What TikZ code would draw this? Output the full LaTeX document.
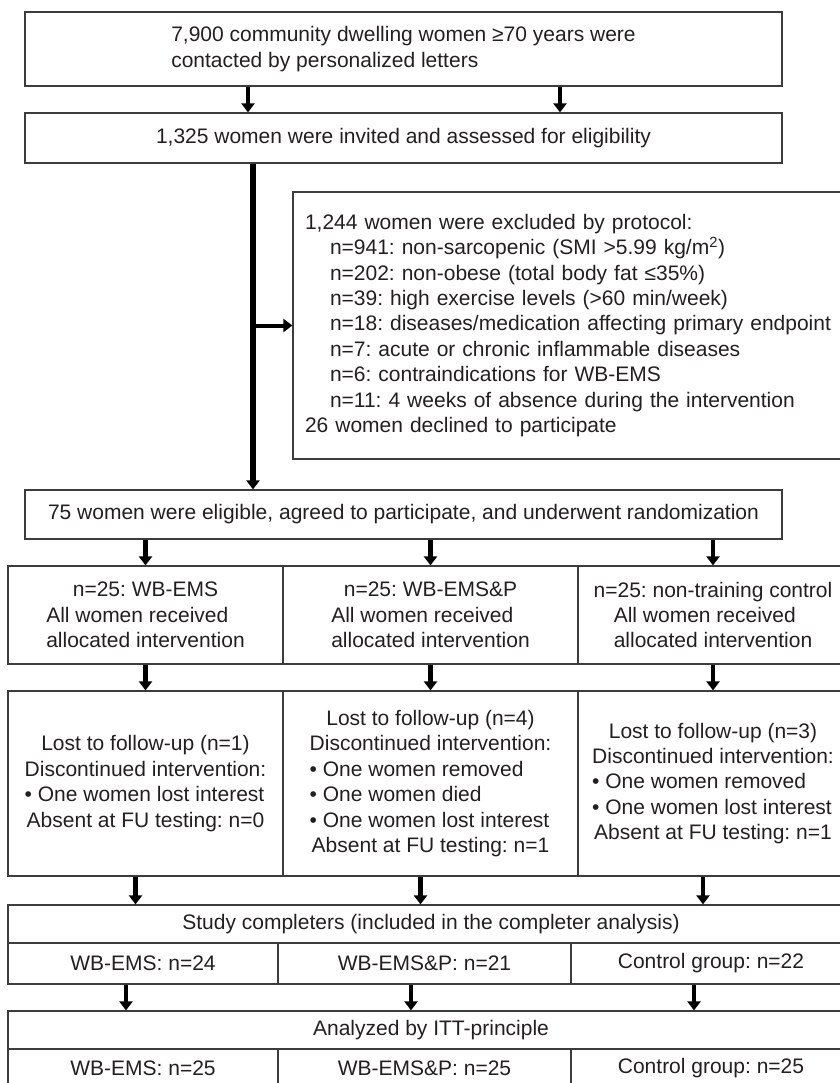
\documentclass[tikz,border=0pt]{standalone}
\usepackage{fontspec}
\setmainfont{Liberation Sans}
\usetikzlibrary{arrows.meta,calc}

\definecolor{boxline}{HTML}{3C3C3C}
\definecolor{inkgray}{HTML}{231F20}

\newlength{\reflen}
\newcommand{\padleft}[2]{\settowidth{\reflen}{#1}\makebox[\reflen][l]{#2}}

\tikzset{
 flowbox/.style={draw=boxline, line width=1.2pt, inner sep=0pt, align=center, text=inkgray,
  font=\fontsize{21}{25.4}\selectfont},
 arr/.style={-{Triangle[width=13pt,length=9pt]}, line width=4.5pt, draw=black}
}
\frenchspacing

\begin{document}
\begin{tikzpicture}[x=1pt,y=-1pt]
 \useasboundingbox (0,0) rectangle (839,1083);

 % enrolment
 \node[flowbox, minimum width=757pt, minimum height=74pt, align=left] (recruit) at (403.5,49)
  {7,900 community dwelling women ≥70 years were\\contacted by personalized letters};
 \node[flowbox, minimum width=757pt, minimum height=50pt] (assess) at (403.5,138)
  {1,325 women were invited and assessed for eligibility};
 \node[flowbox, text width=533pt, inner xsep=12pt, minimum height=267pt, align=left] (excl) at (571.5,325.5)
  {1,244 women were excluded by protocol:\\
   \hspace*{25pt}n=941: non-sarcopenic (SMI >5.99 kg/m\textsuperscript{2})\\
   \hspace*{25pt}n=202: non-obese (total body fat ≤35\%)\\
   \hspace*{25pt}n=39: high exercise levels (>60 min/week)\\
   \hspace*{25pt}n=18: diseases/medication affecting primary endpoint\\
   \hspace*{25pt}n=7: acute or chronic inflammable diseases\\
   \hspace*{25pt}n=6: contraindications for WB-EMS\\
   \hspace*{25pt}n=11: 4 weeks of absence during the intervention\\
   26 women declined to participate};
 \node[flowbox, minimum width=757pt, minimum height=49pt] (rand) at (403.5,514.5)
  {75 women were eligible, agreed to participate, and underwent randomization};

 % allocation
 \node[flowbox, minimum width=275pt, minimum height=98pt] (a1) at (145.5,615)
  {n=25: WB-EMS\\\padleft{allocated intervention}{All women received}\\allocated intervention};
 \node[flowbox, minimum width=295pt, minimum height=98pt] (a2) at (430.5,615)
  {n=25: WB-EMS\&P\\\padleft{allocated intervention}{All women received}\\allocated intervention};
 \node[flowbox, minimum width=270pt, minimum height=98pt] (a3) at (713,615)
  {n=25: non-training control\\\padleft{allocated intervention}{All women received}\\allocated intervention};

 % follow-up
 \node[flowbox, minimum width=275pt, minimum height=185pt] (f1) at (145.5,783.5)
  {Lost to follow-up (n=1)\\Discontinued intervention:\\
   \padleft{Discontinued intervention:}{\textbullet\ One women lost interest}\\
   Absent at FU testing: n=0};
 \node[flowbox, minimum width=295pt, minimum height=185pt] (f2) at (430.5,783.5)
  {Lost to follow-up (n=4)\\Discontinued intervention:\\
   \padleft{Discontinued intervention:}{\textbullet\ One women removed}\\
   \padleft{Discontinued intervention:}{\textbullet\ One women died}\\
   \padleft{Discontinued intervention:}{\textbullet\ One women lost interest}\\
   Absent at FU testing: n=1};
 \node[flowbox, minimum width=270pt, minimum height=185pt] (f3) at (713,783.5)
  {Lost to follow-up (n=3)\\Discontinued intervention:\\
   \padleft{Discontinued intervention:}{\textbullet\ One women removed}\\
   \padleft{Discontinued intervention:}{\textbullet\ One women lost interest}\\
   Absent at FU testing: n=1};

 % completers
 \node[flowbox, minimum width=846pt, minimum height=38pt] (study) at (431,924)
  {Study completers (included in the completer analysis)};
 \node[flowbox, minimum width=270pt, minimum height=41pt] (s1) at (143,963.5) {WB-EMS: n=24};
 \node[flowbox, minimum width=293pt, minimum height=41pt] (s2) at (424.5,963.5) {WB-EMS\&P: n=21};
 \node[flowbox, minimum width=280pt, minimum height=41pt] (s3) at (711,963.5) {Control group: n=22};

 % intention to treat
 \node[flowbox, minimum width=846pt, minimum height=38pt] (itt) at (431,1030)
  {Analyzed by ITT-principle};
 \node[flowbox, minimum width=270pt, minimum height=39pt] (t1) at (143,1068.5) {WB-EMS: n=25};
 \node[flowbox, minimum width=293pt, minimum height=39pt] (t2) at (424.5,1068.5) {WB-EMS\&P: n=25};
 \node[flowbox, minimum width=280pt, minimum height=39pt] (t3) at (711,1068.5) {Control group: n=25};

 % connectors
 \foreach \dx in {-155.5,156.5}
  \draw[arr] ([xshift=\dx pt]recruit.south) -- ([xshift=\dx pt]recruit.south |- assess.north);
 \coordinate (trunk) at ([xshift=-150.5pt]assess.south);
 \draw[arr, line width=6pt] (trunk) -- (trunk |- rand.north);
 \draw[arr, line width=4pt] (trunk |- excl.west) -- (excl.west);
 \foreach \c in {1,2,3} {
  \draw[arr] (rand.south -| a\c) -- (a\c.north);
  \draw[arr] (a\c.south) -- (f\c.north);
  \draw[arr] ([xshift=-10pt]f\c.south) -- ([xshift=-10pt]f\c.south |- study.north);
 };
 \foreach \c/\dx in {1/-17,2/-13.5,3/-17}
  \draw[arr] ([xshift=\dx pt]s\c.south) -- ([xshift=\dx pt]s\c.south |- itt.north);
\end{tikzpicture}
\end{document}
